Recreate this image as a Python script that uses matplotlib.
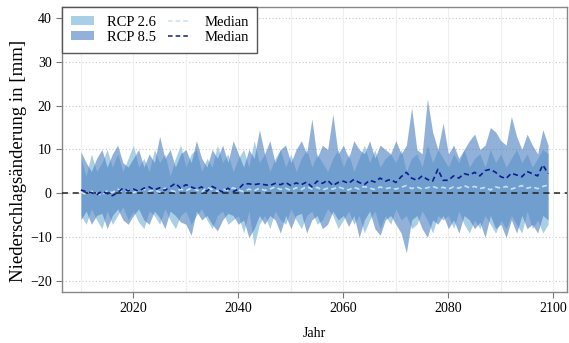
import numpy as np
import matplotlib
matplotlib.use("Agg")
import matplotlib.pyplot as plt
from matplotlib.patches import Patch
from matplotlib.lines import Line2D

plt.rcParams['font.family'] = ['Liberation Serif', 'DejaVu Serif']

years = list(range(2010, 2100))

r85_hi = [9.5, 7, 5, 8, 10, 6, 9, 11, 7, 6,
          8, 10, 6, 9, 7, 13, 8, 10, 6, 9,
          10, 7, 12, 8, 6, 10, 8, 11, 7, 12,
          9, 6, 10, 8, 14.5, 9, 12, 7, 10, 11,
          7, 10, 12, 9, 17, 8, 11, 10, 18, 9,
          11, 8, 12, 10, 9, 12, 8, 11, 10, 9,
          12, 9, 11, 19.5, 10, 9, 21.5, 14, 10, 16,
          9, 11, 8, 10, 12, 13.5, 10, 11, 15, 14,
          12, 11, 17.5, 13, 10, 13.5, 11, 9, 14.5, 11]
r26_hi = [8, 4, 9, 5, 7, 10, 6, 9, 5, 8,
          11, 6, 8, 5, 10, 7, 9, 4, 8, 11,
          6, 9, 10, 5, 8, 6, 11, 7, 9, 5,
          8, 10, 6, 12, 7, 9, 5, 8, 10, 6,
          9, 5, 8, 10, 6, 9, 7, 5, 8, 10,
          6, 9, 5, 8, 11, 7, 10, 6, 8, 9,
          7, 10, 5, 8, 9, 6, 11, 7, 10, 8,
          6, 9, 7, 10, 6, 8, 9, 6, 10, 7,
          9, 6, 8, 10, 7, 9, 6, 8, 10, 9]
r85_lo = [-6, -4, -7, -5, -4.5, -8, -5, -3.5, -6, -7,
          -5, -3.5, -6, -7, -4, -5.5, -8, -4, -5, -6.5,
          -7, -9.5, -4, -6, -5, -7, -8.5, -6, -4.5, -5,
          -7, -6, -10, -8, -5, -7, -5, -6, -9, -5,
          -8, -5, -4.5, -9, -6, -5, -8, -7, -4, -6,
          -5, -7.5, -5, -10, -6, -4, -8, -9.5, -6, -5,
          -7, -9, -13.5, -6, -5, -8, -10, -6, -7, -5,
          -8, -6, -9, -5, -6, -8, -6.5, -10, -5, -8,
          -7, -10, -6, -9, -5, -8, -7, -9, -5, -6]
r26_lo = [-5, -7, -3.5, -6, -8, -4, -7, -5, -3, -6,
          -4, -6.5, -8, -4, -5, -7, -3.5, -6, -8, -5,
          -4, -7, -5, -3.5, -6, -8, -5, -4, -7, -6,
          -5, -9, -4, -12, -7, -5, -8, -4, -6, -7,
          -3.5, -6, -8, -5, -4, -7, -6, -3.5, -5, -8,
          -6, -4, -7, -5, -9, -6, -4, -8, -5, -7,
          -3.5, -6, -5, -8, -7, -4, -6, -9, -5, -6,
          -5, -8, -4, -7, -9, -6, -8, -5, -7, -9,
          -6, -8, -5, -7, -9, -4, -8, -6, -9, -7]
r85_med = [0.8, 0.4, 0.2, -0.3, 0.5, 0.0, -0.5, 0.2, 1.2, 0.6,
           1.0, 0.5, 1.2, 1.5, 0.8, 1.3, 0.7, 1.5, 2.3, 1.2,
           2.0, 1.5, 1.0, 1.5, 0.5, 1.6, 1.0, 0.3, 1.2, 0.4,
           1.0, 2.2, 2.2, 2.0, 2.2, 2.0, 1.8, 2.3, 2.0, 2.5,
           1.8, 2.4, 2.0, 2.6, 1.5, 2.8, 2.3, 3.0, 1.8, 2.5,
           2.8, 2.3, 3.2, 2.5, 2.0, 3.0, 2.6, 3.5, 2.8, 3.2,
           2.5, 3.8, 4.8, 3.5, 3.0, 4.0, 3.2, 2.8, 5.5, 3.0,
           3.0, 4.0, 3.5, 4.5, 4.2, 4.8, 4.0, 5.2, 5.5, 4.8,
           3.8, 3.4, 4.6, 4.2, 3.8, 5.0, 4.5, 4.0, 6.5, 4.5]
r26_med = [0.3, -0.2, 0.5, 0.1, -0.4, 0.6, 0.2, 1.0, 0.4, 0.8,
           0.2, 0.6, 1.0, 0.5, 0.9, 0.3, 1.2, 0.7, 0.4, 1.0,
           0.6, 1.2, 0.8, 0.3, 1.4, 0.9, 0.5, 1.0, 0.7, 1.3,
           0.8, 0.4, 1.0, 0.6, 1.2, 0.7, 1.0, 1.5, 0.9, 1.2,
           0.7, 1.3, 0.9, 1.6, 1.0, 1.4, 0.8, 1.2, 1.0, 1.5,
           1.1, 0.8, 1.4, 1.0, 1.6, 1.2, 0.9, 1.5, 1.1, 1.3,
           1.0, 1.4, 1.8, 1.1, 1.5, 1.0, 1.3, 1.6, 1.2, 1.4,
           1.0, 1.5, 1.2, 1.8, 1.3, 1.6, 1.1, 1.4, 0.8, 1.5,
           1.2, 1.6, 1.0, 1.4, 1.8, 1.2, 1.5, 1.1, 1.6, 1.9]

xticks = [2020, 2040, 2060, 2080, 2100]
yticks = [-20, -10, 0, 10, 20, 30, 40]

c26 = '#a8cfe6'
c85 = '#4a7ec0'
c26_med = '#c9e0f2'
c85_med = '#0a1f8f'
dash = (0, (3, 2))

fig = plt.figure(figsize=(5.69, 3.43), dpi=100)
ax = fig.add_axes([62/569, 1-292/343, (567-62)/569, (292-7)/343])

ax.set_xlim(2006.4, 2102.6)
ax.set_ylim(-22.4, 42.4)

for v in yticks:
    ax.axhline(v, color='#c8c8c8', lw=0.8, ls=(0, (1, 2)), zorder=0)
for v in range(2010, 2101, 10):
    ax.axvline(v, color='#efefef', lw=0.8, zorder=0)

ax.fill_between(years, r26_lo, r26_hi, color=c26, lw=0, zorder=1)
ax.fill_between(years, r85_lo, r85_hi, color=c85, alpha=0.6, lw=0, zorder=2)
ax.axhline(0, color='#222222', lw=1.1, ls=(0, (4, 3)), zorder=3)
ax.plot(years, r26_med, color=c26_med, lw=1.2, ls=dash, zorder=4)
ax.plot(years, r85_med, color=c85_med, lw=1.2, ls=dash, zorder=5)

ax.set_xticks(xticks)
ax.set_yticks(yticks)
ax.tick_params(axis='both', direction='out', length=4, width=0.8, color='#777777',
               labelsize=10)
for s in ax.spines.values():
    s.set_color('#888888')
    s.set_linewidth(1.0)

ax.set_xlabel('Jahr', fontsize=10, labelpad=8)
ax.set_ylabel('Niederschlagsänderung in [mm]', fontsize=13.5)
ax.yaxis.set_label_coords(-0.07, 0.46)

handles = [Patch(facecolor=c26, edgecolor='none'),
           Patch(facecolor=c85, alpha=0.6, edgecolor='none'),
           Line2D([0], [0], color=c26_med, lw=1.1, ls=dash),
           Line2D([0], [0], color=c85_med, lw=1.1, ls=dash)]
labels = ['RCP 2.6', 'RCP 8.5', 'Median', 'Median']
leg = ax.legend(handles, labels, ncol=2, loc='upper left', borderaxespad=0,
                fontsize=10.5, frameon=True, fancybox=False, framealpha=1,
                edgecolor='#555555', handlelength=1.6, handleheight=0.6,
                columnspacing=0.8, labelspacing=0.15, borderpad=0.6,
                handletextpad=0.9)
leg.get_frame().set_linewidth(1.0)

fig.savefig('out.png', dpi=100)
